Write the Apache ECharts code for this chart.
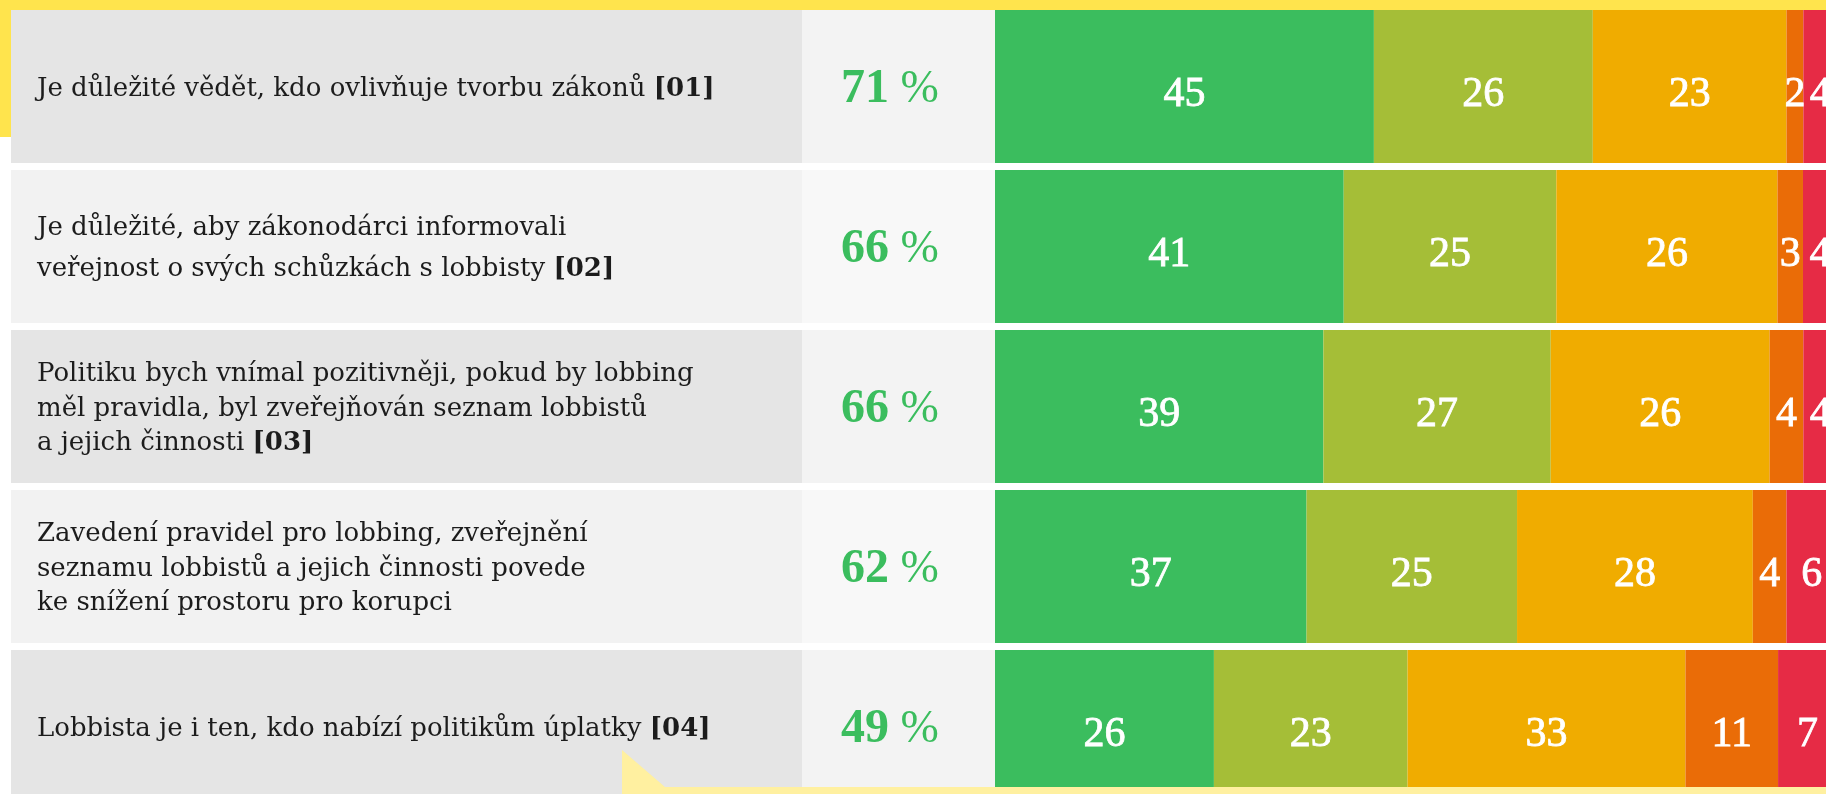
<!DOCTYPE html>
<html>
<head>
<meta charset="utf-8">
<script src="https://cdn.jsdelivr.net/npm/echarts@6/dist/echarts.min.js"></script>
<style>
  html, body { margin: 0; padding: 0; background: #fff; overflow: hidden; }
  /* the chart is cut off on the right and bottom, so the canvas runs past the window */
  #chart { width: 1840px; height: 810px; }
</style>
</head>
<body>
<div id="chart"></div>
<script>
// statements (left column), with the bold reference code shown after them
const statements = [
    'Je důležité vědět, kdo ovlivňuje tvorbu zákonů',
    'Je důležité, aby zákonodárci informovali\nveřejnost o svých schůzkách s lobbisty',
    'Politiku bych vnímal pozitivněji, pokud by lobbing\nměl pravidla, byl zveřejňován seznam lobbistů\na jejich činnosti',
    'Zavedení pravidel pro lobbing, zveřejnění\nseznamu lobbistů a jejich činnosti povede\nke snížení prostoru pro korupci',
    'Lobbista je i ten, kdo nabízí politikům úplatky'
];
const codes = ['[01]', '[02]', '[03]', '', '[04]'];
// share of people who agree (shown in green next to the statement)
const agreeTotals = [71, 66, 66, 62, 49];

// answer shares per statement, from "definitely yes" to "definitely no"
const definitelyYes = [45, 41, 39, 37, 26];
const ratherYes     = [26, 25, 27, 25, 23];
const dontKnow      = [23, 26, 26, 28, 33];
const ratherNo      = [2, 3, 4, 4, 11];
const definitelyNo  = [4, 4, 4, 6, 7];

const answerSeries = [
    { name: 'Rozhodně ano', values: definitelyYes, color: '#3bbd5e' },
    { name: 'Spíše ano',    values: ratherYes,     color: '#a5be37' },
    { name: 'Nevím',        values: dontKnow,      color: '#f0ac00' },
    { name: 'Spíše ne',     values: ratherNo,      color: '#ea6c07' },
    { name: 'Rozhodně ne',  values: definitelyNo,  color: '#e62b45' }
];

const rowIdx = statements.map((_, i) => i);
// each bar is stretched to the full width, so scale by the row total
const rowTotals = rowIdx.map(i => answerSeries.reduce((s, a) => s + a.values[i], 0));

const SERIF = '"Liberation Serif", "DejaVu Serif", serif';
const TEXT_FONT = '"DejaVu Serif", "Liberation Serif", serif';
const GAP = 7;          // white gap between rows
const TEXT_W = 791;     // width of the statement panel

const chart = echarts.init(document.getElementById('chart'), null, { renderer: 'canvas' });

function renderPanel(params, api) {
    const i = params.dataIndex;
    const cs = params.coordSys;
    const cy = api.coord([0, i])[1];
    const h = api.size([0, 1])[1] - GAP;
    const top = cy - h / 2;
    const dark = i % 2 === 0;
    const code = codes[i] ? ' {b|' + codes[i] + '}' : '';
    const nLines = statements[i].split('\n').length;
    const lh = nLines === 2 ? 41 : 34.5;
    return {
        type: 'group',
        children: [
            { type: 'rect', shape: { x: cs.x, y: top, width: TEXT_W, height: h },
              style: { fill: dark ? '#e5e5e5' : '#f2f2f2' } },
            { type: 'rect', shape: { x: cs.x + TEXT_W, y: top, width: cs.width - TEXT_W, height: h },
              style: { fill: dark ? '#f3f3f3' : '#f8f8f8' } },
            { type: 'text',
              style: {
                  x: cs.x + 26, y: cy + 2.5,
                  text: statements[i] + code,
                  fill: '#1c1c1c', fontFamily: TEXT_FONT, fontSize: 26, lineHeight: lh,
                  verticalAlign: 'middle', align: 'left',
                  rich: { b: { fontWeight: 'bold', fontFamily: TEXT_FONT, fontSize: 26, fill: '#1c1c1c', lineHeight: lh } }
              } },
            { type: 'text',
              style: {
                  x: cs.x + TEXT_W + 39, y: cy + 3,
                  text: '{n|' + agreeTotals[i] + '}{p| %}',
                  verticalAlign: 'middle', align: 'left',
                  rich: {
                      n: { fontFamily: SERIF, fontWeight: 'bold', fontSize: 48, fill: '#3bbd5e' },
                      p: { fontFamily: SERIF, fontSize: 46, fill: '#3bbd5e' }
                  }
              } }
        ]
    };
}

const option = {
    backgroundColor: '#ffffff',
    animation: false,
    grid: [
        { left: 995, top: 6.5, width: 842, height: 800 },
        { left: 11, top: 6.5, width: 984, height: 800 }
    ],
    xAxis: [
        { type: 'value', gridIndex: 0, min: 0, max: 100, show: false },
        { type: 'value', gridIndex: 1, min: 0, max: 1, show: false }
    ],
    yAxis: [
        { type: 'category', gridIndex: 0, data: rowIdx, inverse: true, show: false },
        { type: 'category', gridIndex: 1, data: rowIdx, inverse: true, show: false }
    ],
    series: [
        {
            type: 'custom',
            xAxisIndex: 1, yAxisIndex: 1,
            renderItem: renderPanel,
            data: rowIdx.map(i => [0, i]),
            silent: true
        }
    ].concat(answerSeries.map(a => ({
        type: 'bar',
        name: a.name,
        stack: 'answers',
        barWidth: 800 / statements.length - GAP,
        itemStyle: { color: a.color },
        data: a.values.map((v, i) => ({ value: v / rowTotals[i] * 100, raw: v })),
        label: {
            show: true,
            position: 'inside',
            offset: [0, 8],
            color: '#ffffff',
            textBorderColor: '#ffffff',
            textBorderWidth: 0.8,
            fontFamily: SERIF,
            fontSize: 42,
            formatter: p => String(p.data.raw)
        },
        silent: true
    }))),
    graphic: [
        { type: 'rect', z: 100, shape: { x: 0, y: 0, width: 1840, height: 10 }, style: { fill: '#ffe44d' } },
        { type: 'rect', z: 100, shape: { x: 0, y: 0, width: 11, height: 137 }, style: { fill: '#ffe44d' } },
        { type: 'polygon', z: 100,
          shape: { points: [[622, 750], [665, 787], [1840, 787], [1840, 810], [622, 810]] },
          style: { fill: '#fff0a0' } }
    ]
};

chart.setOption(option);
</script>
</body>
</html>
